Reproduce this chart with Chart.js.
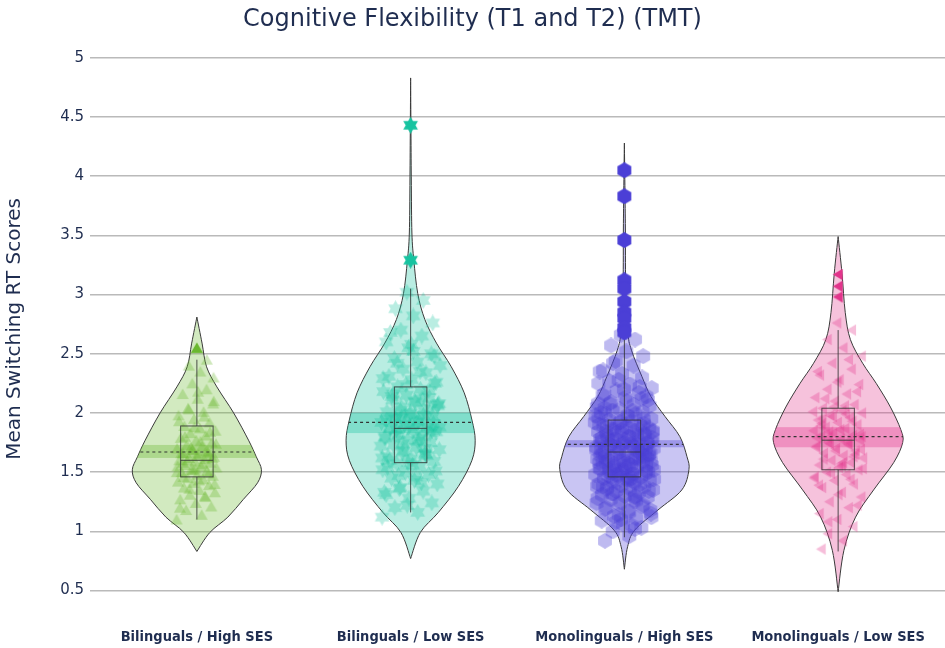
<!DOCTYPE html>
<html>
<head>
<meta charset="utf-8">
<script src="https://cdn.jsdelivr.net/npm/chart.js@4.4.1/dist/chart.umd.min.js"></script>
<style>
  html, body { margin: 0; padding: 0; background: #fff; }
  #wrap { width: 945px; height: 648px; }
</style>
</head>
<body>
<div id="wrap"><canvas id="violinCanvas" width="945" height="648"></canvas></div>
<script>
// 類別與刻度
const categories = ["Bilinguals / High SES", "Bilinguals / Low SES", "Monolinguals / High SES", "Monolinguals / Low SES"];
const yTicks = [0.5, 1, 1.5, 2, 2.5, 3, 3.5, 4, 4.5, 5];

// 小提琴輪廓 (y 位置 與 相對密度 0~1)
const violinY1 = [0.83, 0.99, 1.12, 1.27, 1.41, 1.52, 1.63, 1.77, 2.00, 2.22, 2.39, 2.59, 2.81];
const violinD1 = [0, 0.2, 0.48, 0.72, 0.94, 1.0, 0.92, 0.8, 0.57, 0.31, 0.15, 0.08, 0];
const violinY2 = [0.77, 0.99, 1.16, 1.38, 1.60, 1.77, 1.94, 2.17, 2.39, 2.59, 2.79, 3.01, 3.29, 3.52, 4.0, 4.83];
const violinD2 = [0, 0.15, 0.43, 0.74, 0.95, 1.0, 0.95, 0.83, 0.63, 0.4, 0.22, 0.11, 0.05, 0.02, 0.01, 0];
const violinY3 = [0.68, 0.87, 1.01, 1.18, 1.35, 1.52, 1.63, 1.80, 1.97, 2.14, 2.31, 2.53, 2.70, 3.1, 3.6, 4.28];
const violinD3 = [0, 0.05, 0.16, 0.52, 0.89, 1.0, 0.97, 0.86, 0.63, 0.41, 0.27, 0.11, 0.05, 0.02, 0.015, 0];
const violinY4 = [0.49, 0.84, 1.12, 1.35, 1.58, 1.75, 1.86, 2.05, 2.25, 2.42, 2.62, 2.85, 3.18, 3.49];
const violinD4 = [0, 0.09, 0.27, 0.55, 0.86, 1.0, 0.97, 0.81, 0.59, 0.38, 0.19, 0.11, 0.06, 0];

// 盒鬚圖統計
const q1s = [1.46, 1.58, 1.46, 1.52];
const medians = [1.60, 1.87, 1.67, 1.77];
const q3s = [1.89, 2.22, 1.94, 2.04];
const lowerFences = [1.10, 1.16, 0.95, 0.83];
const upperFences = [2.45, 3.05, 2.65, 2.70];
const means = [1.67, 1.92, 1.735, 1.80];
const meanBandLow = [1.62, 1.83, 1.71, 1.71];
const meanBandHigh = [1.73, 2.00, 1.77, 1.88];

// 個別資料點
const points1 = [1.10,1.14,1.18,1.21,1.24,1.27,1.29,1.31,1.33,1.35,1.37,1.39,1.41,1.42,1.44,1.45,1.47,1.48,1.50,1.51,
  1.52,1.54,1.55,1.56,1.58,1.59,1.60,1.61,1.62,1.63,1.65,1.66,1.67,1.69,1.70,1.72,1.73,1.75,1.77,1.79,
  1.81,1.83,1.85,1.87,1.89,1.92,1.95,1.98,2.01,2.04,2.08,2.12,2.16,2.20,2.25,2.30,2.35,2.40,2.45,1.53,
  1.20,1.30,1.36,1.40,1.43,1.46,1.49,1.52,1.55,1.57,1.60,1.62,1.64,1.66,1.68,1.71,1.74,1.76,1.80,1.84,
  1.88,1.93,1.97,2.03,2.10,2.18,1.58,1.63,1.69,1.50];
const points2 = [1.12,1.16,1.20,1.24,1.28,1.31,1.34,1.37,1.40,1.43,1.45,1.48,1.50,1.52,1.55,1.57,1.59,1.61,1.63,1.65,
  1.67,1.69,1.71,1.73,1.75,1.77,1.79,1.80,1.82,1.84,1.85,1.87,1.88,1.90,1.92,1.93,1.95,1.97,1.99,2.01,
  2.03,2.05,2.07,2.09,2.11,2.13,2.15,2.18,2.20,2.22,2.25,2.28,2.31,2.34,2.37,2.40,2.43,2.46,2.50,2.55,
  2.60,2.65,2.70,2.76,2.82,2.88,2.95,3.02,1.62,1.78,1.86,1.91,2.00,1.54,1.70,1.96,2.08,1.46,2.16,1.83,
  1.22,1.33,1.41,1.47,1.51,1.56,1.60,1.64,1.68,1.72,1.76,1.81,1.85,1.89,1.94,1.98,2.02,2.06,2.10,2.14,
  2.19,2.24,2.29,2.35,2.42,2.48,2.58,2.68,1.66,1.74,1.88,1.92,1.97,2.04,1.58,1.80,2.12,1.36,2.26,2.52];
const points3 = [0.92,0.96,1.00,1.03,1.06,1.09,1.11,1.13,1.15,1.17,1.19,1.21,1.23,1.24,1.26,1.27,1.29,1.30,1.31,1.33,
  1.34,1.35,1.36,1.37,1.38,1.39,1.40,1.41,1.42,1.43,1.44,1.45,1.46,
  1.47,1.48,1.49,1.50,1.51,1.52,1.53,1.54,1.55,1.56,1.57,1.58,1.59,1.60,1.61,1.62,1.63,1.64,1.65,1.66,
  1.67,1.48,1.52,1.56,1.60,1.64,1.50,1.58,1.62,1.54,1.66,1.46,
  1.68,1.69,1.70,1.71,1.72,1.73,1.74,1.75,1.76,1.77,1.78,1.79,1.80,1.81,1.82,1.83,1.84,1.85,1.86,1.87,
  1.88,1.89,1.90,1.91,1.92,1.93,1.94,1.70,1.74,1.78,1.82,1.86,
  1.95,1.97,1.99,2.01,2.03,2.05,2.07,2.09,2.11,2.13,2.15,2.17,2.19,2.21,2.24,2.27,2.30,2.33,2.36,2.40,
  2.44,2.48,2.52,2.57,2.62,2.66,1.98,2.02,2.08,2.14,2.20,2.00,
  1.02,1.08,1.12,1.16,1.20,1.22,1.25,1.28,1.30,1.32,1.34,1.36,1.38,1.40,1.42,1.44,1.45,1.47,1.49,1.51,
  1.53,1.55,1.57,1.59,1.61,1.63,1.65,1.67,1.69,1.71,1.73,1.75,1.77,1.79,1.81,1.83,1.85,1.87,1.89,1.91,
  1.93,1.96,1.99,2.02,2.06,2.10,2.16,2.22,2.28,2.35,1.48,1.52,1.56,1.60,1.64,1.68,1.72,1.76,1.80,1.84,
  1.88,1.92,1.38,1.42,1.46,1.50,1.54,1.58,1.62,1.66,1.70,1.74,1.78,1.82,1.86,1.90,1.26,1.32,1.18,1.98,
  2.04,2.12,1.14,2.25,1.05,2.42,1.62,1.57,1.69,1.73,1.51,1.84,1.44,1.36,1.95,1.10,2.08,1.29,1.77,1.65];
const points4 = [0.85,0.92,0.98,1.04,1.10,1.15,1.20,1.25,1.29,1.33,1.37,1.40,1.43,1.46,1.48,1.50,1.52,1.54,1.56,1.58,
  1.60,1.62,1.64,1.66,1.68,1.70,1.72,1.74,1.75,1.77,1.78,1.80,1.81,1.83,1.85,1.87,1.88,1.90,1.92,1.94,
  1.96,1.98,2.00,2.02,2.04,2.07,2.10,2.13,2.16,2.20,2.24,2.28,2.32,2.37,2.42,2.48,2.55,2.62,2.70,2.76,
  1.79,1.73,1.84,1.69,1.57,1.91,1.63,2.05,1.45,1.99,
  1.08,1.22,1.31,1.39,1.44,1.49,1.53,1.58,1.61,1.65,1.68,1.71,1.76,1.79,1.82,1.86,1.89,1.93,1.97,2.01,
  2.06,2.12,2.18,2.26,2.35,2.45,1.74,1.80,1.55,1.95];

// 離群值
const outliers1 = [2.55];
const outliers2 = [4.43, 3.29];
const outliers3 = [4.05, 3.83, 3.46, 3.12, 3.05, 2.94, 2.85, 2.80, 2.72, 2.68];
const outliers4 = [3.17, 3.07, 2.98];

const violinYs = [violinY1, violinY2, violinY3, violinY4];
const violinDs = [violinD1, violinD2, violinD3, violinD4];
const pointSets = [points1, points2, points3, points4];
const outlierSets = [outliers1, outliers2, outliers3, outliers4];

// 樣式
const colors = ["106,184,47", "23,195,160", "75,63,214", "226,53,140"];
const shapes = ["triangle-up", "hexagram", "hexagon", "triangle-left"];
const markerSizes = [14, 17, 16, 13];
const jitterWidths = [0.095, 0.14, 0.14, 0.12];
const cloudAlpha = [0.32, 0.3, 0.36, 0.32];
const VIOLIN_HALF = 0.302;
const BOX_HALF = 0.076;
const NAVY = "#1f2d50";

function makeMarker(shape, rgb, size, alpha) {
  const c = document.createElement("canvas");
  c.width = size; c.height = size;
  const g = c.getContext("2d");
  const r = size / 2;
  g.translate(r, r);
  g.fillStyle = `rgba(${rgb},${alpha})`;
  const poly = (pts) => {
    g.beginPath();
    pts.forEach(([x, y], k) => (k ? g.lineTo(x, y) : g.moveTo(x, y)));
    g.closePath();
    g.fill();
  };
  const ring = (n, rad, start) =>
    Array.from({ length: n }, (_, k) => {
      const a = start + (k * 2 * Math.PI) / n;
      return [rad * Math.cos(a), rad * Math.sin(a)];
    });
  if (shape === "triangle-up") poly(ring(3, r, -Math.PI / 2).map(([x, y]) => [x, y + r * 0.2]));
  if (shape === "triangle-left") poly(ring(3, r, Math.PI).map(([x, y]) => [x + r * 0.2, y]));
  if (shape === "hexagon") poly(ring(6, r, -Math.PI / 2));
  if (shape === "hexagram") {
    const outer = ring(6, r, -Math.PI / 2);
    const inner = ring(6, r * 0.577, -Math.PI / 2 + Math.PI / 6);
    const pts = [];
    outer.forEach((p, k) => { pts.push(p, inner[k]); });
    poly(pts);
  }
  return c;
}

// Catmull-Rom 平滑曲線
function curveThrough(ctx, pts, moveFirst) {
  if (moveFirst) ctx.moveTo(pts[0][0], pts[0][1]);
  else ctx.lineTo(pts[0][0], pts[0][1]);
  for (let k = 0; k < pts.length - 1; k++) {
    const p0 = pts[k - 1] || pts[k];
    const p1 = pts[k];
    const p2 = pts[k + 1];
    const p3 = pts[k + 2] || p2;
    ctx.bezierCurveTo(
      p1[0] + (p2[0] - p0[0]) / 6, p1[1] + (p2[1] - p0[1]) / 6,
      p2[0] - (p3[0] - p1[0]) / 6, p2[1] - (p3[1] - p1[1]) / 6,
      p2[0], p2[1]
    );
  }
}

function violinPath(chart, i) {
  const { x, y } = chart.scales;
  const cx = i + 1;
  const ys = violinYs[i], ds = violinDs[i];
  const right = ys.map((v, k) => [x.getPixelForValue(cx + ds[k] * VIOLIN_HALF), y.getPixelForValue(v)]);
  const left = ys.map((v, k) => [x.getPixelForValue(cx - ds[k] * VIOLIN_HALF), y.getPixelForValue(v)]).reverse();
  const ctx = chart.ctx;
  ctx.beginPath();
  curveThrough(ctx, right, true);
  curveThrough(ctx, left, false);
  ctx.closePath();
}

// 點的抖動寬度隨小提琴寬度縮放 (只影響位置)
function densityAt(i, v) {
  const ys = violinYs[i], ds = violinDs[i];
  for (let k = 0; k < ys.length - 1; k++) {
    if (v >= ys[k] && v <= ys[k + 1]) {
      const t = (v - ys[k]) / (ys[k + 1] - ys[k]);
      return ds[k] + t * (ds[k + 1] - ds[k]);
    }
  }
  return 0;
}

const violinPlugin = {
  id: "violins",
  // 繪圖區延伸到畫布右緣
  afterLayout(chart) {
    const xs = chart.scales.x;
    const area = chart.chartArea;
    if (area.right < chart.width) {
      area.right = chart.width;
      area.width = area.right - area.left;
      xs.right = chart.width;
      xs.width = xs.right - xs.left;
      xs.configure();
    }
  },
  beforeDatasetsDraw(chart) {
    const ctx = chart.ctx;
    categories.forEach((_, i) => {
      ctx.save();
      violinPath(chart, i);
      ctx.fillStyle = `rgba(${colors[i]},0.3)`;
      ctx.fill();
      ctx.lineWidth = 1;
      ctx.strokeStyle = "#3a3a3a";
      ctx.stroke();
      ctx.restore();
    });
  },
  afterDatasetDraw(chart, args) {
    const ds = chart.data.datasets[args.index];
    if (ds.kind !== "cloud") return;
    const i = ds.group;
    const ctx = chart.ctx;
    const { x, y } = chart.scales;
    const cx = x.getPixelForValue(i + 1);
    const vl = x.getPixelForValue(i + 1 - VIOLIN_HALF) - 4;
    const vr = x.getPixelForValue(i + 1 + VIOLIN_HALF) + 4;
    const bl = x.getPixelForValue(i + 1 - BOX_HALF);
    const br = x.getPixelForValue(i + 1 + BOX_HALF);

    // 平均數帶與虛線 (限制在小提琴內)
    ctx.save();
    violinPath(chart, i);
    ctx.clip();
    const bt = y.getPixelForValue(meanBandHigh[i]);
    const bb = y.getPixelForValue(meanBandLow[i]);
    ctx.fillStyle = `rgba(${colors[i]},0.35)`;
    ctx.fillRect(vl, bt, vr - vl, bb - bt);
    ctx.beginPath();
    ctx.setLineDash([3, 3]);
    ctx.strokeStyle = "#333";
    ctx.lineWidth = 1.2;
    const my = y.getPixelForValue(means[i]);
    ctx.moveTo(vl, my);
    ctx.lineTo(vr, my);
    ctx.stroke();
    ctx.restore();

    // 盒子、中位數、鬚
    ctx.save();
    ctx.strokeStyle = "rgba(50,50,50,0.85)";
    ctx.lineWidth = 1;
    const top = y.getPixelForValue(q3s[i]);
    const bot = y.getPixelForValue(q1s[i]);
    ctx.fillStyle = `rgba(${colors[i]},0.1)`;
    ctx.fillRect(bl, top, br - bl, bot - top);
    ctx.strokeRect(bl, top, br - bl, bot - top);
    ctx.beginPath();
    const md = y.getPixelForValue(medians[i]);
    ctx.moveTo(bl, md);
    ctx.lineTo(br, md);
    ctx.moveTo(cx, top);
    ctx.lineTo(cx, y.getPixelForValue(upperFences[i]));
    ctx.moveTo(cx, bot);
    ctx.lineTo(cx, y.getPixelForValue(lowerFences[i]));
    ctx.stroke();
    ctx.restore();
  },
};

const jitter = (k) => ((k * 0.6180339887) % 1) * 2 - 1;

const datasets = [];
categories.forEach((_, i) => {
  datasets.push({
    kind: "cloud",
    group: i,
    data: pointSets[i].map((v, k) => ({
      x: i + 1 + jitter(k) * jitterWidths[i] * Math.min(1, 0.35 + Math.sqrt(densityAt(i, v))),
      y: v,
    })),
    pointStyle: makeMarker(shapes[i], colors[i], markerSizes[i], cloudAlpha[i]),
    pointRadius: markerSizes[i] / 2,
    order: 2,
  });
});
categories.forEach((_, i) => {
  datasets.push({
    kind: "outlier",
    group: i,
    data: outlierSets[i].map((v) => ({ x: i + 1, y: v })),
    pointStyle: makeMarker(shapes[i], colors[i], markerSizes[i], 1),
    pointRadius: markerSizes[i] / 2,
    order: 1,
  });
});

new Chart(document.getElementById("violinCanvas"), {
  type: "scatter",
  data: { datasets },
  plugins: [violinPlugin],
  options: {
    responsive: false,
    animation: false,
    layout: { padding: 0 },
    plugins: {
      legend: { display: false },
      tooltip: { enabled: false },
      title: {
        display: true,
        text: "Cognitive Flexibility (T1 and T2) (TMT)",
        color: NAVY,
        font: { family: "DejaVu Sans", size: 24, weight: "normal", lineHeight: 1.2 },
        padding: { top: 5, bottom: 24 },
      },
    },
    scales: {
      x: {
        type: "linear",
        min: 0.5,
        max: 4.5,
        afterBuildTicks: (s) => { s.ticks = categories.map((_, i) => ({ value: i + 1 })); },
        afterFit: (s) => { s.height = 48; s.paddingLeft = 0; s.paddingRight = 0; },
        grid: { display: false },
        border: { display: false },
        ticks: {
          callback: (v) => categories[v - 1],
          color: NAVY,
          font: { family: "DejaVu Sans Condensed", size: 14.5, weight: "bold" },
          padding: 21,
          maxRotation: 0,
          autoSkip: false,
        },
      },
      y: {
        min: 0.42,
        max: 5,
        afterBuildTicks: (s) => { s.ticks = yTicks.map((v) => ({ value: v })); },
        afterFit: (s) => { s.width = 90; s.paddingTop = 0; s.paddingBottom = 0; },
        border: { display: false },
        grid: { color: "rgba(140,140,140,0.6)", lineWidth: 1.5, drawTicks: false },
        ticks: {
          callback: (v) => String(v),
          color: NAVY,
          font: { family: "DejaVu Sans", size: 15 },
          padding: 6,
        },
        title: {
          display: true,
          text: "Mean Switching RT Scores",
          color: NAVY,
          font: { family: "DejaVu Sans", size: 20 },
          padding: { top: 3, bottom: 0 },
        },
      },
    },
  },
});
</script>
</body>
</html>
